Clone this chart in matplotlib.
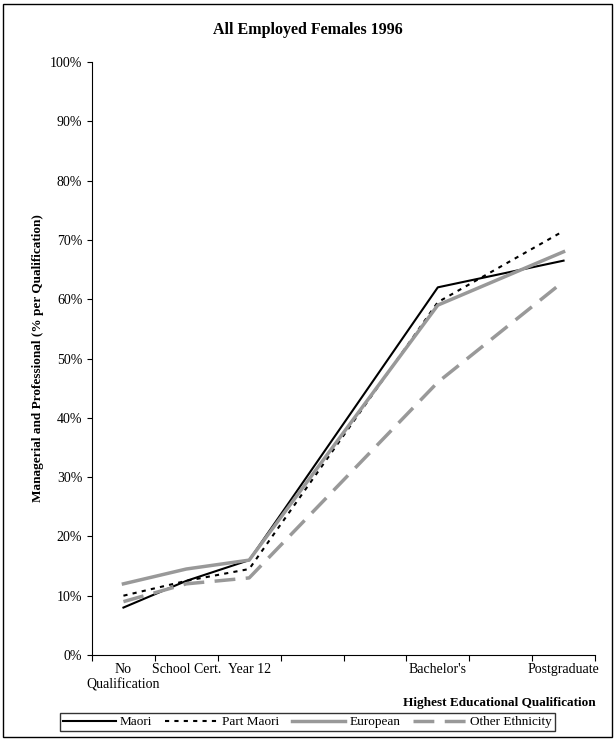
import numpy as np
import matplotlib.pyplot as plt
from matplotlib.patches import Rectangle

plt.rcParams['font.family'] = ['Liberation Serif', 'DejaVu Serif']

categories = ["No\nQualification", "School Cert.", "Year 12", "", "", "Bachelor's", "", "Postgraduate"]
idx = [0, 1, 2, 5, 7]
maori = [8.0, 12.5, 16.0, 62.0, 66.5]
part_maori = [10.0, 12.5, 14.5, 59.5, 71.5]
european = [12.0, 14.5, 16.0, 59.0, 68.0]
other = [9.0, 12.0, 13.0, 46.0, 63.0]

fig = plt.figure(figsize=(6.15, 7.41), dpi=100)
ax = fig.add_axes([92/615, 1-655/741, 503/615, 593/741])
x = np.array(idx) + 0.5
ax.plot(x, maori, color='black', lw=1.5, label='Maori')
ax.plot(x, part_maori, color='black', lw=1.5, ls=(0, (2, 2.5)), label='Part Maori')
ax.plot(x, european, color='#999999', lw=2.5, label='European')
ax.plot(x, other, color='#999999', lw=2.5, ls=(0, (6, 3)), label='Other Ethnicity')

ax.set_xlim(0, 8)
ax.set_ylim(0, 100)
ax.set_xticks(range(9))
ax.set_xticklabels([])
ax.set_xticks(np.arange(8) + 0.5, minor=True)
ax.set_xticklabels(categories, minor=True, fontsize=10)
ax.tick_params(axis='x', which='minor', length=0, pad=6)
ax.tick_params(axis='x', which='major', length=4, direction='out')
ax.set_yticks(range(0, 101, 10))
ax.set_yticklabels([f"{v}%" for v in range(0, 101, 10)], fontsize=10)
for s in ['top', 'right']:
    ax.spines[s].set_visible(False)
ax.set_ylabel("Managerial and Professional (% per Qualification)", fontsize=9.5, fontweight='bold')
fig.text(596/615, 1-703/741, "Highest Educational Qualification", ha='right', va='center',
         fontsize=9.5, fontweight='bold')
fig.text(0.5, 1-30/741, "All Employed Females 1996", ha='center', va='center',
         fontsize=11.5, fontweight='bold')

leg = fig.legend(loc='center', bbox_to_anchor=(0.5, 1-722/741), ncol=4, fontsize=9.5,
                 frameon=True, fancybox=False, edgecolor='black', handlelength=4,
                 columnspacing=1.0, borderpad=0.2, handletextpad=0.3)
fig.patches.append(Rectangle((0.005, 0.005), 0.99, 0.99, transform=fig.transFigure,
                             fill=False, edgecolor='black', lw=1))
fig.savefig('out.png', dpi=100)
